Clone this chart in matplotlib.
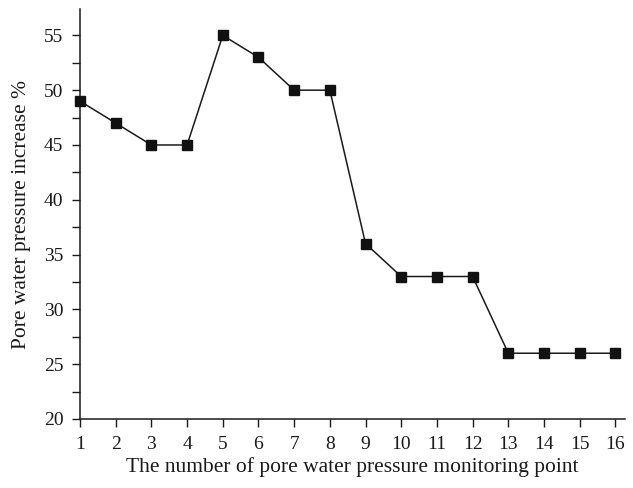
import matplotlib
matplotlib.use("Agg")
import matplotlib.pyplot as plt
from matplotlib.ticker import MultipleLocator

points = list(range(1, 17))
increase = [49, 47, 45, 45, 55, 53, 50, 50, 36, 33, 33, 33, 26, 26, 26, 26]
y_ticks = [20, 25, 30, 35, 40, 45, 50, 55]

plt.rcParams['font.family'] = ['Liberation Serif', 'DejaVu Serif']

fig = plt.figure(figsize=(6.33, 4.88), dpi=100)
ax = fig.add_axes([0.1264, 0.1414, 0.861, 0.840])

ax.plot(points, increase, color='#1a1a1a', linewidth=1.1, marker='s',
        markersize=7.5, markerfacecolor='#111111', markeredgecolor='#111111',
        clip_on=False, zorder=3)

ax.set_xlim(1, 16.27)
ax.set_ylim(20, 57.4)
ax.set_xticks(points)
ax.set_yticks(y_ticks)
ax.yaxis.set_minor_locator(MultipleLocator(2.5))

for side in ('top', 'right'):
    ax.spines[side].set_visible(False)
for side in ('left', 'bottom'):
    ax.spines[side].set_linewidth(1.1)
    ax.spines[side].set_color('#1a1a1a')

ax.tick_params(axis='both', which='major', direction='out', length=6,
               width=1.0, labelsize=14, color='#1a1a1a', labelcolor='#1a1a1a',
               pad=6)
ax.tick_params(axis='y', which='minor', direction='out', length=6, width=1.0,
               color='#1a1a1a')

ax.set_xlabel('The number of pore water pressure monitoring point',
              fontsize=15.5, color='#1a1a1a', labelpad=3)
ax.set_ylabel('Pore water pressure increase %', fontsize=15.5,
              color='#1a1a1a', labelpad=9)

fig.savefig('out.png', dpi=100)
